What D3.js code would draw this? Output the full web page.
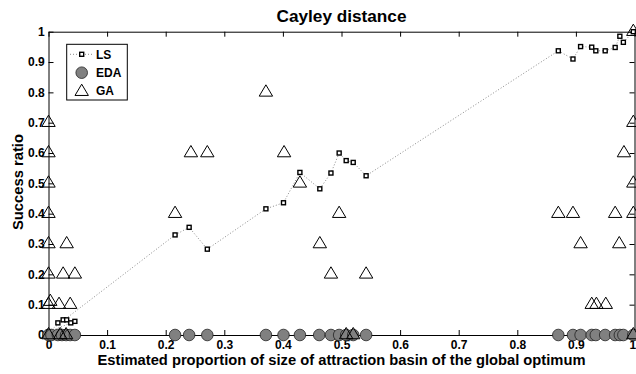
<!DOCTYPE html>
<html>
<head>
<meta charset="utf-8">
<script src="https://cdn.jsdelivr.net/npm/d3@7"></script>
<style>
html,body{margin:0;padding:0;background:#fff;}
svg{display:block;font-family:"Liberation Sans",Arial,Helvetica,sans-serif;font-weight:bold;}
</style>
</head>
<body>
<svg id="chart" width="636" height="374"></svg>
<script>
// ---- data ----
const titleText = "Cayley distance";
const xLabelText = "Estimated proportion of size of attraction basin of the global optimum";
const yLabelText = "Success ratio";
const xTicks = [0,0.1,0.2,0.3,0.4,0.5,0.6,0.7,0.8,0.9,1];
const xTickLabels = ["0","0.1","0.2","0.3","0.4","0.5","0.6","0.7","0.8","0.9","1"];
const yTicks = [0,0.1,0.2,0.3,0.4,0.5,0.6,0.7,0.8,0.9,1];
const yTickLabels = ["0","0.1","0.2","0.3","0.4","0.5","0.6","0.7","0.8","0.9","1"];
const seriesNames = ["LS","EDA","GA"];

// LS points in plotting order (line joins them in this order)
const lsX = [0.016, 0.025, 0.031, 0.038, 0.045, 0, 0.216, 0.240, 0.271, 0.371, 0.401, 0.429, 0.463, 0.482, 0.496, 0.508, 0.520, 0.542, 0.870, 0.895, 0.908, 0.927, 0.934, 0.950, 0.967, 0.975, 0.981, 0.998];
const lsY = [0.04, 0.05, 0.05, 0.04, 0.045, 0.01, 0.33, 0.355, 0.283, 0.416, 0.436, 0.536, 0.482, 0.534, 0.600, 0.575, 0.569, 0.525, 0.937, 0.910, 0.951, 0.949, 0.937, 0.937, 0.948, 0.985, 0.965, 1.0];

const edaX = [0, 0.005, 0.016, 0.023, 0.030, 0.037, 0.045, 0.216, 0.240, 0.271, 0.371, 0.401, 0.429, 0.462, 0.482, 0.496, 0.508, 0.520, 0.542, 0.870, 0.895, 0.908, 0.927, 0.934, 0.950, 0.967, 0.975, 0.981, 0.998];
const edaY = [0, 0, 0, 0, 0, 0, 0, 0, 0, 0, 0, 0, 0, 0, 0, 0, 0, 0, 0, 0, 0, 0, 0, 0, 0, 0, 0, 0, 0];

const gaX = [0, 0, 0, 0, 0, 0.031, 0, 0.025, 0.045, 0, 0.003, 0.018, 0.037, 0, 0.020, 0.030,
  0.216, 0.243, 0.271, 0.371, 0.402, 0.429, 0.463, 0.482, 0.496, 0.508, 0.520, 0.542,
  0.870, 0.895, 0.908, 0.927, 0.935, 0.951, 0.967, 0.974, 0.982, 0.998, 0.998, 0.998, 0.998, 0.998];
const gaY = [0.7, 0.6, 0.5, 0.4, 0.3, 0.3, 0.2, 0.2, 0.2, 0.1, 0.11, 0.1, 0.1, 0, 0, 0,
  0.4, 0.6, 0.6, 0.8, 0.6, 0.5, 0.3, 0.2, 0.4, 0, 0, 0.2,
  0.4, 0.4, 0.3, 0.1, 0.1, 0.1, 0.4, 0.3, 0.6, 1.0, 0.7, 0.5, 0.4, 0];

// ---- layout ----
const pL = 48.5, pR = 634.5, pT = 31.7, pB = 335;
const svg = d3.select("#chart");
const x = d3.scaleLinear().domain([0,1]).range([pL,pR]);
const y = d3.scaleLinear().domain([0,1]).range([pB,pT]);

// axes (ticks inside, box)
const tickLen = 5;
const fmtX = (d,i) => xTickLabels[i];
const fmtY = (d,i) => yTickLabels[i];
const axB = svg.append("g").attr("transform",`translate(0,${pB})`)
  .call(d3.axisBottom(x).tickValues(xTicks).tickFormat(fmtX).tickSizeInner(-tickLen).tickSizeOuter(0).tickPadding(5.5));
const axT = svg.append("g").attr("transform",`translate(0,${pT})`)
  .call(d3.axisTop(x).tickValues(xTicks).tickFormat("").tickSizeInner(-tickLen).tickSizeOuter(0));
const axL = svg.append("g").attr("transform",`translate(${pL},0)`)
  .call(d3.axisLeft(y).tickValues(yTicks).tickFormat(fmtY).tickSizeInner(-tickLen).tickSizeOuter(0).tickPadding(3.8));
const axR = svg.append("g").attr("transform",`translate(${pR},0)`)
  .call(d3.axisRight(y).tickValues(yTicks).tickFormat("").tickSizeInner(-tickLen).tickSizeOuter(0));
[axB,axT,axL,axR].forEach(g=>{
  g.selectAll(".domain").attr("stroke","#000").attr("stroke-width",1);
  g.selectAll(".tick line").attr("stroke","#000").attr("stroke-width",1);
  g.selectAll("text").attr("fill","#000").style("font-size","12px").style("font-weight","bold")
    .style("font-family","'Liberation Sans',Arial,sans-serif");
});
axB.selectAll(".tick text").attr("dy","0.71em");
// keep the last x label inside the picture
axB.selectAll(".tick text").filter((d,i)=>i===xTicks.length-1)
  .attr("text-anchor","end").attr("x",1.2);

// ---- LS line + squares ----
const lsData = lsX.map((v,i)=>({x:v,y:lsY[i]}));
svg.append("path").datum(lsData)
  .attr("fill","none").attr("stroke","#8a8a8a").attr("stroke-width",1)
  .attr("stroke-dasharray","1,2")
  .attr("d", d3.line().x(d=>x(d.x)).y(d=>y(d.y)));
svg.append("g").selectAll("rect").data(lsData).join("rect")
  .attr("x",d=>x(d.x)-2).attr("y",d=>y(d.y)-2)
  .attr("width",4).attr("height",4)
  .attr("fill","#fff").attr("stroke","#000").attr("stroke-width",1.4);

// ---- EDA circles ----
const edaData = edaX.map((v,i)=>({x:v,y:edaY[i]}));
svg.append("g").selectAll("circle").data(edaData).join("circle")
  .attr("cx",d=>x(d.x)).attr("cy",d=>y(d.y)).attr("r",5.8)
  .attr("fill","#808080").attr("stroke","#222").attr("stroke-width",0.8);

// ---- GA triangles ----
const triH = 11.3, triW = 13.4;
const tri = (cx,cy) => `M${cx},${cy-triH*2/3}L${cx+triW/2},${cy+triH/3}L${cx-triW/2},${cy+triH/3}Z`;
const gaData = gaX.map((v,i)=>({x:v,y:gaY[i]}));
svg.append("g").selectAll("path").data(gaData).join("path")
  .attr("d",d=>tri(x(d.x),y(d.y)))
  .attr("fill","none").attr("stroke","#000").attr("stroke-width",1);

// ---- legend ----
const lg = svg.append("g");
lg.append("rect").attr("x",66.7).attr("y",44.3).attr("width",60.6).attr("height",55.7)
  .attr("fill","#fff").attr("stroke","#000").attr("stroke-width",1);
const ly = [54.3,72.7,90.7];
lg.append("line").attr("x1",70).attr("x2",93).attr("y1",ly[0]).attr("y2",ly[0])
  .attr("stroke","#8a8a8a").attr("stroke-dasharray","1,2");
lg.append("rect").attr("x",81.7-2).attr("y",ly[0]-2).attr("width",4).attr("height",4)
  .attr("fill","#fff").attr("stroke","#000").attr("stroke-width",1.4);
lg.append("circle").attr("cx",81.7).attr("cy",ly[1]).attr("r",5.8)
  .attr("fill","#808080").attr("stroke","#222").attr("stroke-width",0.8);
lg.append("path").attr("d",tri(81.7,ly[2]+1)).attr("fill","none").attr("stroke","#000");
lg.selectAll("text.lt").data(seriesNames).join("text").attr("class","lt")
  .attr("x",96).attr("y",(d,i)=>ly[i]).attr("dy","0.36em")
  .style("font-size","12px").text(d=>d);

// ---- titles ----
svg.append("text").attr("x",(pL+pR)/2).attr("y",22).attr("text-anchor","middle")
  .attr("textLength",130).attr("lengthAdjust","spacingAndGlyphs")
  .style("font-size","16.5px").text(titleText);
svg.append("text").attr("x",(pL+pR)/2).attr("y",364.5).attr("text-anchor","middle")
  .attr("textLength",488).attr("lengthAdjust","spacingAndGlyphs")
  .style("font-size","14px").text(xLabelText);
svg.append("text").attr("transform",`translate(22.5,182) rotate(-90)`)
  .attr("text-anchor","middle").attr("textLength",96).attr("lengthAdjust","spacingAndGlyphs")
  .style("font-size","15px").text(yLabelText);
</script>
</body>
</html>
